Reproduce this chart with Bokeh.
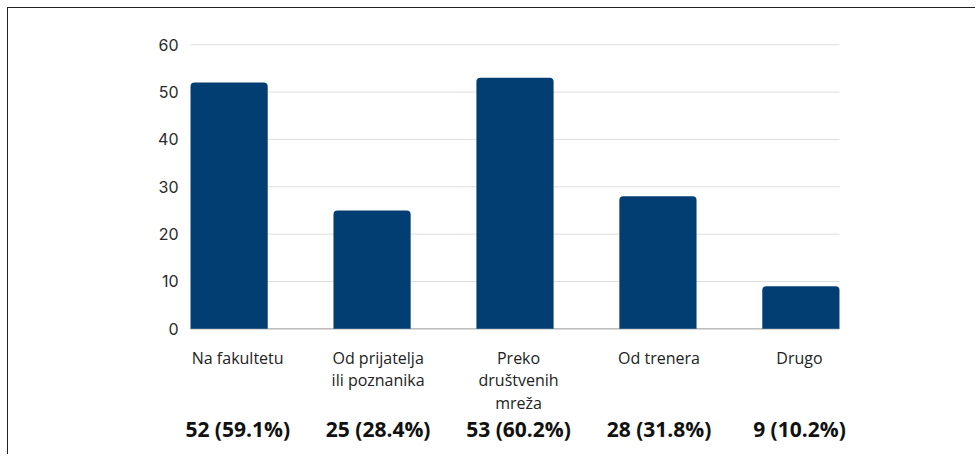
from bokeh.plotting import figure
from bokeh.models import Range1d, ColumnDataSource, LabelSet
from bokeh.core.properties import value
from bokeh.embed import file_html
from bokeh.resources import INLINE

# ---- data ----
categories = ["Na fakultetu", "Od prijatelja\nili poznanika", "Preko\ndruštvenih\nmreža",
              "Od trenera", "Drugo"]
counts = [52, 25, 53, 28, 9]
percents = [59.1, 28.4, 60.2, 31.8, 10.2]
y_ticks = [0, 10, 20, 30, 40, 50, 60]

# ---- style / layout constants ----
BAR_COLOR = "#023e71"
BAR_WIDTH = 0.54
CAT_Y = -3.74
LINE_STEP = 4.75
SUM_Y = -21.05
LABEL_SHIFT = 0.06
LABEL_SPREAD = 0.9825

n = len(categories)
xs = list(range(n))
summary = [f"{c} ({p:.1f}%)" for c, p in zip(counts, percents)]
label_x = [LABEL_SHIFT + LABEL_SPREAD * i for i in xs]
grid_left = -BAR_WIDTH / 2
grid_right = n - 1 + BAR_WIDTH / 2

# one entry per text line so each line is centred on its own
line_x, line_y, line_txt = [], [], []
for lx, cat in zip(label_x, categories):
    for k, part in enumerate(cat.split("\n")):
        line_x.append(lx)
        line_y.append(CAT_Y - k * LINE_STEP)
        line_txt.append(part)

bars = ColumnDataSource(dict(x=xs, top=counts))
cat_lines = ColumnDataSource(dict(x=line_x, y=line_y, txt=line_txt))
sums = ColumnDataSource(dict(x=label_x, y=[SUM_Y] * n, txt=summary))
ticks = ColumnDataSource(dict(y=y_ticks, txt=[str(t) for t in y_ticks],
                              x0=[grid_left] * len(y_ticks), x1=[grid_right] * len(y_ticks)))

p = figure(width=968, height=447, output_backend="svg", toolbar_location=None,
           x_range=Range1d(-0.55, 4.55), y_range=Range1d(-24, 63),
           x_axis_location=None, y_axis_location=None,
           min_border_left=142, min_border_right=97, min_border_top=22, min_border_bottom=13)
p.styles = {"margin-left": "7px", "margin-top": "7px",
            "border-left": "1px solid #222222", "border-top": "1px solid #222222"}
p.outline_line_color = None
p.background_fill_color = "white"
p.border_fill_color = "white"
p.grid.visible = False

# grid lines at the y ticks
p.segment(x0="x0", x1="x1", y0="y", y1="y", source=ticks, line_color="#dedede", line_width=1)
# baseline
p.segment(x0=[grid_left], x1=[grid_right], y0=[0], y1=[0], line_color="#bdbdbd", line_width=1.5)

p.vbar(x="x", top="top", bottom=0, width=BAR_WIDTH, source=bars,
       fill_color=BAR_COLOR, line_color=None, border_radius=(4, 4, 0, 0))

# y tick labels
p.add_layout(LabelSet(x="x0", y="y", text="txt", source=ticks, x_offset=-12,
                      text_align="right", text_baseline="middle",
                      text_font=value("Inter"), text_font_size="16px", text_color="#2a2a2a"))

p.add_layout(LabelSet(x="x", y="y", text="txt", source=cat_lines,
                      text_align="center", text_baseline="top",
                      text_font=value("Open Sans"), text_font_size="16px",
                      text_color="#222222"))
p.add_layout(LabelSet(x="x", y="y", text="txt", source=sums,
                      text_align="center", text_baseline="middle",
                      text_font=value("Open Sans"), text_font_size="21px",
                      text_font_style="bold", text_color="#111111"))

open("out.html", "w").write(file_html(p, INLINE))
